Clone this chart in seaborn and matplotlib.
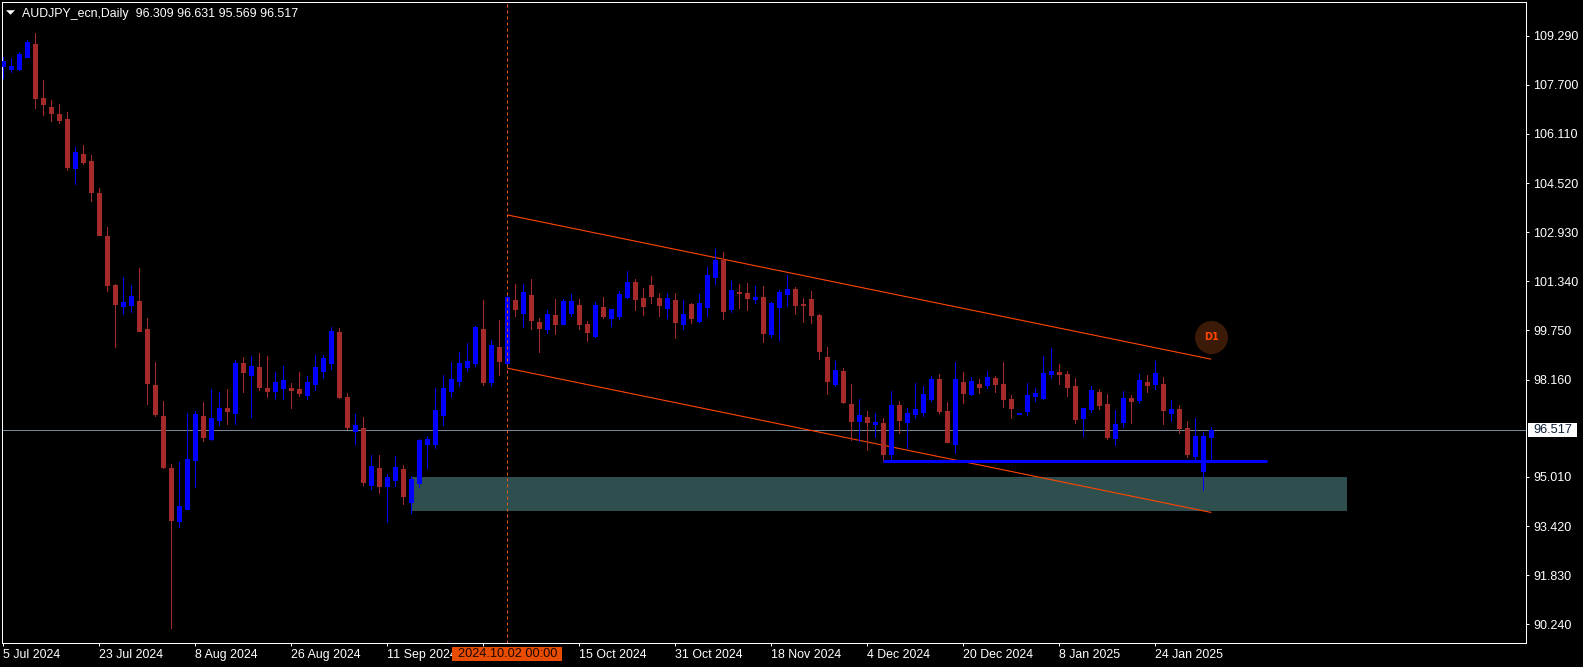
import numpy as np
import pandas as pd
import seaborn as sns
import matplotlib.pyplot as plt
from matplotlib.patches import Rectangle

# daily bars
opens = [
    108.32, 108.21, 108.21, 108.60, 109.02, 107.27, 106.98, 106.76, 106.59, 105.01,
    105.46, 105.24, 104.20, 102.81, 101.22, 100.54, 100.58, 100.70, 99.80, 97.99,
    96.98, 95.30, 93.58, 93.97, 95.56, 96.98, 96.24, 96.85, 97.24, 97.08,
    98.70, 98.31, 98.57, 97.89, 97.79, 97.89, 97.89, 97.86, 97.66, 98.02,
    98.44, 98.70, 99.70, 97.60, 96.50, 96.59, 94.75, 95.30, 94.72, 94.91,
    95.27, 94.20, 94.81, 96.08, 96.08, 97.01, 97.79, 98.12, 98.57, 98.70,
    99.80, 98.08, 99.22, 98.70, 100.74, 100.32, 100.90, 100.02, 99.80, 100.25,
    99.96, 100.32, 100.57, 99.96, 99.57, 100.51, 100.15, 100.22, 100.83, 101.32,
    100.80, 101.22, 100.80, 100.48, 100.74, 99.96, 100.61, 100.06, 100.51, 101.48,
    102.03, 100.45, 101.00, 100.96, 100.77, 100.83, 99.64, 100.51, 100.93, 101.09,
    100.61, 100.77, 100.25, 98.89, 98.02, 98.44, 97.37, 96.82, 96.95, 96.72,
    96.76, 95.75, 97.34, 96.79, 97.05, 97.11, 97.53, 98.18, 97.14, 96.08,
    98.08, 97.69, 98.02, 97.99, 98.21, 98.02, 97.53, 97.06, 97.14, 97.63,
    97.57, 98.34, 98.41, 98.34, 97.95, 96.92, 97.21, 97.76, 97.37, 96.27,
    96.79, 97.57, 97.50, 98.08, 98.02, 98.02, 97.08, 97.21, 96.59, 95.69,
    95.20, 96.309,
]
highs = [
    108.59, 108.58, 108.76, 109.15, 109.38, 107.86, 107.21, 107.08, 106.82, 105.69,
    105.75, 105.43, 104.36, 103.10, 101.25, 101.48, 101.22, 101.77, 100.15, 98.73,
    97.47, 95.43, 95.49, 97.08, 97.14, 97.44, 97.86, 97.76, 97.86, 98.79,
    98.89, 98.92, 99.02, 98.92, 98.41, 98.60, 98.05, 98.41, 98.28, 98.96,
    98.96, 99.86, 99.83, 97.73, 97.05, 96.95, 95.72, 95.72, 95.11, 95.69,
    95.40, 95.04, 96.24, 96.34, 97.89, 98.31, 98.73, 99.05, 99.35, 99.90,
    100.74, 99.44, 100.09, 100.90, 101.25, 101.25, 101.42, 100.15, 100.41, 100.77,
    100.77, 100.93, 100.77, 100.06, 100.67, 100.83, 100.45, 101.03, 101.67, 101.42,
    101.12, 101.51, 100.96, 100.96, 100.96, 100.74, 100.64, 100.93, 101.80, 102.39,
    102.29, 101.35, 101.25, 101.29, 101.19, 101.19, 100.67, 101.06, 101.55, 101.16,
    100.80, 101.03, 100.28, 99.22, 98.76, 98.54, 98.02, 97.53, 97.14, 97.08,
    96.92, 97.79, 97.47, 97.24, 98.05, 97.95, 98.28, 98.34, 97.44, 98.73,
    98.41, 98.25, 98.18, 98.44, 98.28, 98.73, 97.66, 97.08, 98.05, 97.89,
    98.92, 99.18, 98.67, 98.44, 98.21, 97.24, 97.95, 97.86, 97.69, 97.18,
    97.79, 97.66, 98.34, 98.31, 98.76, 98.25, 97.50, 97.34, 96.82, 96.92,
    96.47, 96.631,
]
lows = [
    107.93, 108.13, 108.18, 108.60, 106.95, 106.72, 106.53, 106.47, 104.94, 104.49,
    105.14, 103.94, 102.84, 101.03, 99.22, 100.28, 100.35, 99.73, 97.37, 96.98,
    95.30, 90.12, 93.39, 93.97, 94.69, 96.17, 96.21, 96.69, 96.72, 96.72,
    97.76, 96.95, 97.82, 97.60, 97.57, 97.53, 97.24, 97.63, 97.53, 97.82,
    98.21, 98.50, 97.57, 96.56, 96.08, 94.75, 94.62, 94.49, 93.55, 94.72,
    94.13, 93.84, 94.69, 95.30, 95.95, 96.69, 97.60, 97.95, 98.44, 98.60,
    97.99, 97.95, 98.31, 98.60, 100.22, 99.86, 99.80, 99.05, 99.67, 99.64,
    99.96, 100.22, 99.80, 99.41, 99.54, 100.15, 99.90, 100.12, 100.80, 100.41,
    100.25, 100.64, 100.22, 100.15, 99.51, 99.80, 99.99, 100.02, 100.22, 101.25,
    100.12, 100.35, 100.48, 100.41, 100.64, 99.38, 99.54, 99.44, 100.54, 100.28,
    100.02, 99.99, 98.83, 97.69, 97.95, 97.40, 96.21, 96.17, 95.88, 96.30,
    95.53, 95.59, 96.43, 95.95, 96.92, 96.98, 97.47, 97.08, 96.14, 95.79,
    97.40, 97.66, 97.73, 97.89, 97.76, 97.27, 96.92, 97.06, 97.02, 97.47,
    97.53, 98.21, 98.02, 97.63, 96.76, 96.34, 97.11, 97.21, 96.24, 96.04,
    96.63, 96.76, 97.40, 97.76, 97.86, 96.72, 96.82, 96.43, 95.66, 95.56,
    94.59, 95.569,
]
closes = [
    108.47, 108.31, 108.70, 109.09, 107.27, 107.08, 106.79, 106.56, 105.04, 105.53,
    105.20, 104.23, 102.84, 101.22, 100.61, 100.67, 100.87, 99.73, 98.05, 97.05,
    95.33, 93.62, 94.07, 95.59, 97.05, 96.30, 96.92, 97.24, 97.14, 98.70,
    98.41, 98.60, 97.92, 97.79, 98.08, 98.15, 97.82, 97.73, 98.08, 98.57,
    98.86, 99.73, 97.60, 96.63, 96.69, 94.85, 95.36, 94.72, 95.01, 95.33,
    94.39, 94.94, 96.21, 96.24, 97.18, 97.89, 98.18, 98.70, 98.76, 99.86,
    98.08, 99.28, 98.76, 100.83, 100.45, 101.00, 100.09, 99.83, 100.28, 99.96,
    100.70, 100.70, 99.96, 99.70, 100.57, 100.22, 100.45, 100.93, 101.32, 100.77,
    100.54, 100.87, 100.57, 100.80, 100.02, 100.28, 100.15, 100.64, 101.55, 102.03,
    100.38, 101.06, 100.96, 100.80, 100.83, 99.67, 100.64, 101.00, 101.09, 100.57,
    100.57, 100.25, 99.09, 98.12, 98.47, 97.44, 96.82, 97.01, 96.79, 96.79,
    95.75, 97.34, 96.85, 97.08, 97.21, 97.69, 98.18, 97.14, 96.14, 98.18,
    97.73, 98.12, 97.92, 98.25, 98.02, 97.53, 97.24, 97.08, 97.66, 97.73,
    98.37, 98.44, 98.34, 97.92, 96.89, 97.24, 97.82, 97.34, 96.30, 96.72,
    97.57, 97.47, 98.15, 97.99, 98.37, 97.18, 97.21, 96.59, 95.75, 96.34,
    96.34, 96.517,
]

price_ticks = [109.29, 107.70, 106.11, 104.52, 102.93, 101.34, 99.75, 98.16, 95.01, 93.42, 91.83, 90.24]
date_ticks = [0, 12, 24, 36, 48, 60, 72, 84, 96, 108, 120, 132, 144]
date_labels = ['5 Jul 2024', '23 Jul 2024', '8 Aug 2024', '26 Aug 2024', '11 Sep 2024', '',
               '15 Oct 2024', '31 Oct 2024', '18 Nov 2024', '4 Dec 2024', '20 Dec 2024',
               '8 Jan 2025', '24 Jan 2025']

last_price = 96.517
zone_low, zone_high = 93.91, 95.01
zone_bars = [51.1, 168]
channel_bars = [63, 151]
channel_upper = [103.49, 98.82]
channel_lower = [98.53, 93.86]
support_bars = [110, 158]
support_level = 95.51
cursor_bar = 63

BULL = '#0000ff'
BEAR = '#a52a2a'
ORANGE = '#ff4500'

sns.set_theme(style='dark', rc={
    'figure.facecolor': 'black', 'axes.facecolor': 'black', 'axes.edgecolor': 'white',
    'axes.linewidth': 0.72, 'xtick.color': 'white', 'ytick.color': 'white',
    'text.color': 'white', 'axes.grid': False, 'lines.solid_capstyle': 'butt',
})
plt.rcParams['font.family'] = ['Liberation Sans', 'DejaVu Sans']

fig = plt.figure(figsize=(15.83, 6.67), dpi=100)
ax = fig.add_axes([2.3 / 1583, 24 / 667, 1524 / 1583, 640.7 / 667])

bars = pd.DataFrame({'bar': np.arange(len(opens)), 'open': opens, 'high': highs, 'low': lows, 'close': closes})
bars['side'] = np.where(bars['close'] >= bars['open'], 'bull', 'bear')
palette = {'bull': BULL, 'bear': BEAR}

# candles as vertical segments, one unit per bar
wicks = bars.melt(id_vars=['bar', 'side'], value_vars=['low', 'high'], value_name='price')
bodies = bars.melt(id_vars=['bar', 'side'], value_vars=['open', 'close'], value_name='price')
common = dict(x='bar', y='price', hue='side', units='bar', estimator=None, errorbar=None,
              palette=palette, legend=False, ax=ax, zorder=3, antialiased=False, sort=False)
sns.lineplot(data=wicks, linewidth=0.72, **common)
sns.lineplot(data=bodies, linewidth=3.6, **common)

ax.fill_between(zone_bars, zone_low, zone_high, color='#2f4f4f', linewidth=0, zorder=1)
ax.axhline(last_price, color='#778899', linewidth=0.72, zorder=2)
ax.plot(channel_bars, channel_upper, color=ORANGE, linewidth=0.8, zorder=2)
ax.plot(channel_bars, channel_lower, color=ORANGE, linewidth=0.8, zorder=2)
ax.plot(support_bars, [support_level, support_level], color=BULL, linewidth=2.2, zorder=4)
ax.axvline(cursor_bar, color='#e8591c', linewidth=0.72, linestyle=(0, (3, 3)), zorder=4)

# D1 badge
ax.scatter([151], [99.55], s=564, color='#3b1a08', linewidths=0, zorder=2)
ax.text(151, 99.55, 'D1', color=ORANGE, fontsize=7, fontweight='bold', family='DejaVu Sans',
        ha='center', va='center', zorder=5)

ax.set_xlim(-0.125, 190.375)
ax.set_ylim(89.636, 110.371)
ax.set(xlabel='', ylabel='')
ax.yaxis.tick_right()
ax.set_yticks(price_ticks, [f'{p:.3f}' for p in price_ticks])
ax.set_xticks(date_ticks, date_labels, ha='left')
ax.tick_params(axis='y', right=True, length=2.2, width=0.72, pad=3, labelsize=9)
ax.tick_params(axis='x', bottom=True, length=2.2, width=0.72, pad=2, labelsize=8.9)

# last price tag on the scale
ytrans = ax.get_yaxis_transform()
ax.add_patch(Rectangle((1.00112, last_price - 0.2265), 0.03215, 0.453, transform=ytrans,
                       facecolor='white', edgecolor='none', clip_on=False, zorder=6))
ax.text(1.0046, last_price, f'{last_price:.3f}', transform=ytrans, color='#10203a',
        fontsize=9.2, va='center', ha='left', clip_on=False, zorder=7)

# crosshair date tag
xtrans = ax.get_xaxis_transform()
ax.add_patch(Rectangle((56.09, -0.0281), 13.75, 0.02185, transform=xtrans,
                       facecolor='#e84c00', edgecolor='none', clip_on=False, zorder=6))
ax.text(cursor_bar, -0.0172, '2024.10.02 00:00', transform=xtrans, color='#1a0800',
        fontsize=9.2, va='center', ha='center', clip_on=False, zorder=7)

# symbol header
ax.scatter([0.00525], [0.9856], s=42, marker=[(-1, 0.5), (1, 0.5), (0, -0.5)], color='white',
           linewidths=0, transform=ax.transAxes, zorder=6)
fig.text(21.5 / 1583, 1 - 14 / 667, 'AUDJPY_ecn,Daily  96.309 96.631 95.569 96.517',
         color='white', fontsize=8.9, va='center', ha='left')

fig.savefig('out.png', dpi=100, facecolor='black')
